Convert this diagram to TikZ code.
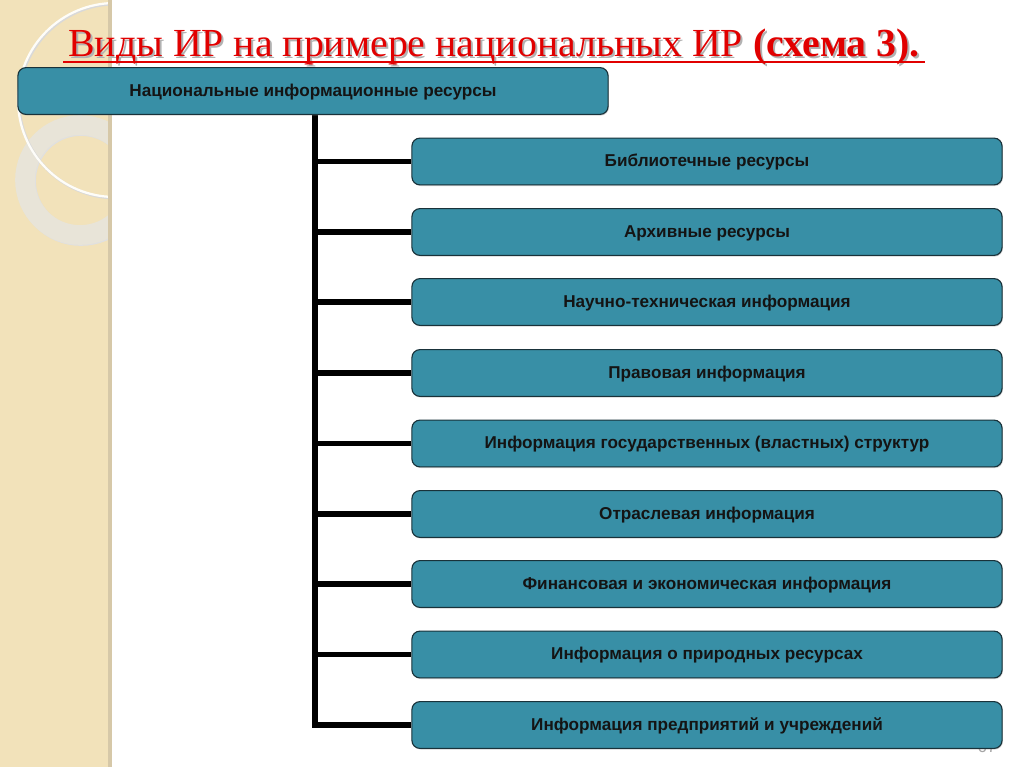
\documentclass[tikz,border=0pt]{standalone}
\usepackage{fontspec}
\setmainfont{Liberation Sans}
\newfontfamily\titrefont{Liberation Serif}
\usepackage{tikz}
\usetikzlibrary{positioning, shadows, backgrounds}
\definecolor{tealBoite}{RGB}{56, 143, 166}
\definecolor{tealFonce}{RGB}{25, 50, 58}
\definecolor{rougeTitre}{RGB}{225, 0, 0}
\definecolor{beigeFond}{RGB}{242, 226, 186}
\definecolor{beigeBord}{RGB}{214, 200, 168}
\definecolor{anneauGris}{RGB}{232, 228, 216}
\definecolor{texteFonce}{RGB}{20, 20, 20}

\begin{document}
\begin{tikzpicture}[x=0.025cm, y=-0.025cm,
  ir/.style={rectangle, rounded corners=0.2cm, draw=tealFonce,
    fill=tealBoite, line width=0.8pt, minimum width=14.75cm,
    minimum height=1.17cm, align=center, text=texteFonce,
    text height=1.65ex, text depth=0.25ex,
    font=\fontsize{12.2}{14}\selectfont\bfseries,
    drop shadow={shadow xshift=0.6pt, shadow yshift=-0.8pt, opacity=0.35}},
  lien/.style={line width=4.2pt, black},
  titre/.style={font=\titrefont\fontsize{28.3}{32}\selectfont, anchor=base},
]
\useasboundingbox (0,0) rectangle (1024,767);

% titre
\node[titre, text=black!30] (titreOmbre) at (496,59)
  {Виды ИР на примере национальных ИР \textbf{(схема 3).}};
\node[titre, text=rougeTitre] (titre) at (494,57)
  {Виды ИР на примере национальных ИР \textbf{(схема 3).}};
\draw[rougeTitre, line width=1.5pt]
  ([yshift=-3.5pt]titre.base west) -- ([yshift=-3.5pt]titre.base east);

% schema
\node[ir] (nat)  at (313, 91)  {Национальные информационные ресурсы};
\node[ir] (bib)  at (707,161.5) {Библиотечные ресурсы};
\node[ir] (arch) at (707,232)  {Архивные ресурсы};
\node[ir] (nti)  at (707,302)  {Научно-техническая информация};
\node[ir] (prav) at (707,373)  {Правовая информация};
\node[ir] (gos)  at (707,443.5) {Информация государственных (властных) структур};
\node[ir] (otr)  at (707,514)  {Отраслевая информация};
\node[ir] (fin)  at (707,584)  {Финансовая и экономическая информация};
\node[ir] (prir) at (707,654.5) {Информация о природных ресурсах};
\node[ir] (pred) at (707,725)  {Информация предприятий и учреждений};

\begin{scope}[on background layer]
  % fond
  \fill[white] (0,0) rectangle (1024,767);
  \fill[beigeFond] (0,0) rectangle (110,767);
  \begin{scope}
    \clip (0,0) rectangle (110,767);
    \draw[line width=14pt, black!12] (81,181) circle (55);
    \draw[line width=14pt, anneauGris] (80,180) circle (55);
    \draw[line width=2pt, black!15] (116,101) circle (97);
    \draw[line width=1.6pt, white!92!beigeFond] (115,100) circle (97);
  \end{scope}
  \fill[beigeBord] (108,0) rectangle (112,767);
  \node[text=black!35, font=\fontsize{12}{14}\selectfont] (num) at (987,747) {67};
  % liens
  \draw[lien] ([xshift=0.05cm]nat.south) |- (pred.west);
  \foreach \n in {bib, arch, nti, prav, gos, otr, fin, prir}
    \draw[lien] ([xshift=0.05cm]nat.south |- \n.west) -- (\n.west);
\end{scope}
\end{tikzpicture}
\end{document}
